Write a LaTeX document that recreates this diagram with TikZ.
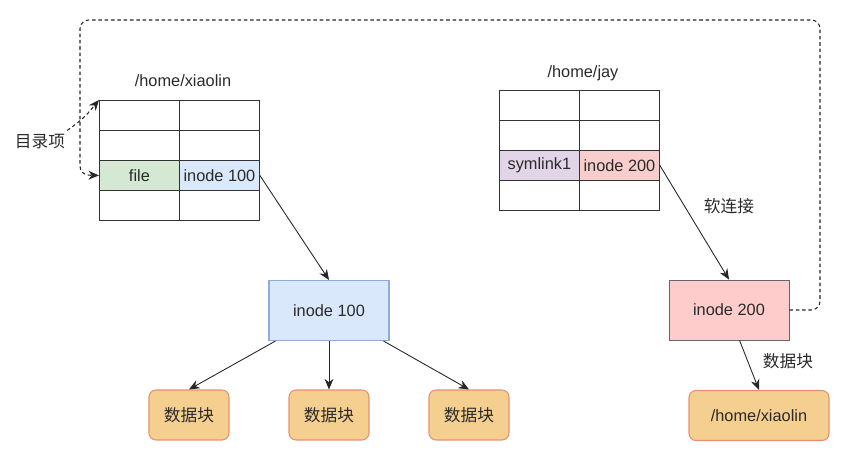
\documentclass[tikz,border=0pt]{standalone}
\usepackage{fontspec}
\setmainfont{Liberation Sans}
\newfontfamily\cjk{Noto Sans CJK SC}
\usetikzlibrary{arrows.meta,calc}
\definecolor{cgreen}{HTML}{D5E8D4}
\definecolor{cblue}{HTML}{DAE8FC}
\definecolor{cblueb}{HTML}{8EACD6}
\definecolor{cpurple}{HTML}{E1D5E7}
\definecolor{cred}{HTML}{F8CECC}
\definecolor{credbox}{HTML}{FFCCCC}
\definecolor{corange}{HTML}{F5CF8F}
\definecolor{corangeb}{HTML}{E8906C}
\definecolor{ctext}{HTML}{2A2A2A}
\tikzset{
  txt/.style={font=\fontsize{9.3pt}{11pt}\selectfont, text=ctext},
  ctxt/.style={font=\cjk\fontsize{9.5pt}{11pt}\selectfont, text=ctext},
  cell/.style={draw=black!80, line width=0.5pt, minimum width=1.6cm, minimum height=0.6cm, inner sep=0pt, anchor=north west, txt},
  inodebox/.style={line width=0.6pt, minimum width=2.4cm, minimum height=1.2cm, inner sep=0pt, txt},
  datablk/.style={draw=corangeb, fill=corange, rounded corners=4pt, line width=0.6pt, minimum width=1.6cm, minimum height=1.0cm, inner sep=0pt, ctxt},
  arr/.style={-{Stealth[length=6pt,width=5pt]}, line width=0.5pt, black!85},
  darr/.style={-{Stealth[length=6pt,width=5pt]}, line width=0.6pt, black!85, dash pattern=on 2pt off 1.6pt},
}
\begin{document}
\begin{tikzpicture}[x=0.02cm,y=-0.02cm]
\useasboundingbox (0,0) rectangle (856,465);
% left table
\node[cell] (l11) at (99,100) {};
\node[cell] (l12) at (179,100) {};
\node[cell] (l21) at (99,130) {};
\node[cell] (l22) at (179,130) {};
\node[cell, fill=cgreen] (l31) at (99,160) {file};
\node[cell, fill=cblue] (l32) at (179,160) {inode 100};
\node[cell] (l41) at (99,190) {};
\node[cell] (l42) at (179,190) {};
\node[txt] (ltitle) at (183,81) {/home/xiaolin};
\node[ctxt] (mulu) at (40,142) {目录项};
% right table
\node[cell] (r11) at (499,90) {};
\node[cell] (r12) at (579,90) {};
\node[cell] (r21) at (499,120) {};
\node[cell] (r22) at (579,120) {};
\node[cell, fill=cpurple] (r31) at (499,150) {symlink1};
\node[cell, fill=cred] (r32) at (579,150) {inode 200};
\node[cell] (r41) at (499,180) {};
\node[cell] (r42) at (579,180) {};
\node[txt] (rtitle) at (583,73) {/home/jay};
% inode boxes
\node[inodebox, draw=cblueb, fill=cblue] (i100) at (329,310.5) {inode 100};
\node[inodebox, draw=black!60, line width=0.5pt, fill=credbox] (i200) at (729,310) {inode 200};
% data blocks
\node[datablk] (d1) at (189,415) {数据块};
\node[datablk] (d2) at (329,415) {数据块};
\node[datablk] (d3) at (469,415) {数据块};
\node[datablk, minimum width=2.8cm, txt] (dx) at (759,415.5) {/home/xiaolin};
% labels
\node[ctxt] (soft) at (729,206) {软连接};
\node[ctxt] (sjk) at (788,361) {数据块};
% arrows
\draw[arr] (l32.east) -- (i100.north);
\draw[arr] (r32.east) -- (i200.north);
\draw[arr] ($(i100.south west)+(7,0)$) -- (d1.north);
\draw[arr] (i100.south) -- (d2.north);
\draw[arr] ($(i100.south east)+(-6,0)$) -- (d3.north);
\draw[arr] ($(i200.south west)+(71,0)$) -- (dx.north);
% dashed
\draw[darr] ($(mulu.north east)+(-4,2)$) .. controls (84,118) .. (l11.north west);
\draw[darr, rounded corners=5pt] (i200.east) -- (820,310) -- (820,20) -- (80,20) -- (80,175) -- (l31.west);
\end{tikzpicture}
\end{document}
